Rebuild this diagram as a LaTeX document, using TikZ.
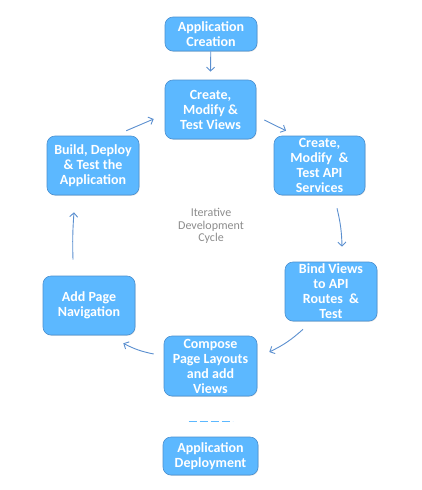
\documentclass[tikz,border=0pt]{standalone}
\usepackage{fontspec}
\setmainfont{Carlito}
\usetikzlibrary{arrows.meta,shadows}
\definecolor{boxfill}{HTML}{5CB8FF}
\definecolor{boxline}{HTML}{4A90D0}
\definecolor{arrowblue}{HTML}{5B8FCF}
\definecolor{cyclegray}{HTML}{8C8C8C}

\begin{document}
\begin{tikzpicture}[x=1pt,y=-1pt,
		stage/.style={fill=boxfill,draw=boxline,line width=0.6pt,rounded corners=8pt,text=white,font=\bfseries\fontsize{14}{15}\selectfont,align=center,inner sep=0pt,drop shadow={opacity=0.25,shadow xshift=0.6pt,shadow yshift=-0.8pt}},
		flow/.style={arrowblue,line width=0.9pt,-{Straight Barb[length=4pt,width=8pt]}}]

		\useasboundingbox (0,0) rectangle (421,490);

		\node (creation) [stage,minimum width=92pt,minimum height=34pt] at (211,34) {Application\\Creation};
		\node (views) [stage,minimum width=91pt,minimum height=59pt] at (210.5,109.5) {Create,\\Modify \&\\Test Views};
		\node (api) [stage,minimum width=91pt,minimum height=59pt] at (319.5,165.5) {Create,\\Modify \ \&\\Test API\\Services};
		\node (bind) [stage,minimum width=92pt,minimum height=59pt] at (331,291.5) {Bind Views\\to API\\Routes \ \&\\Test};
		\node (compose) [stage,minimum width=93pt,minimum height=60pt] at (210.5,366) {Compose\\Page Layouts\\and add\\Views};
		\node (nav) [stage,minimum width=92pt,minimum height=59pt] at (89,305.5) {Add Page\\Navigation};
		\node (build) [stage,minimum width=92pt,minimum height=59pt] at (93,165.5) {Build, Deploy\\\& Test the\\Application};
		\node (deploy) [stage,minimum width=95pt,minimum height=38pt] at (210.5,456) {Application\\Deployment};

		\node (cycle) [text=cyclegray,font=\fontsize{12}{12.5}\selectfont,align=center] at (211,226) {Iterative\\Development\\Cycle};

		\draw[flow] (creation) -- ([yshift=8pt]views.north);
		\draw[flow] ([xshift=-13pt,yshift=5pt]build.north east) -- ([xshift=-11pt,yshift=-9.5pt]views.west);
		\draw[flow] ([xshift=8pt,yshift=-10.5pt]views.east) -- ([xshift=-33.5pt,yshift=5pt]api.north);
		\draw[flow] ([xshift=17.5pt,yshift=-13pt]api.south) to[bend left=6] ([xshift=11pt,yshift=15pt]bind.north);
		\draw[flow] ([xshift=-28pt,yshift=-8pt]bind.south) to[bend left=8] ([xshift=12pt,yshift=14pt]compose.east);
		\draw[flow] ([xshift=-10pt,yshift=12pt]compose.west) to[bend left=8] ([xshift=-12pt,yshift=-8pt]nav.south east);
		\draw[flow] ([xshift=-16pt,yshift=16pt]nav.north) to[bend left=3] ([xshift=-19pt,yshift=-17pt]build.south);

		\draw[boxfill,line width=0.8pt,dash pattern=on 8.3pt off 2.7pt] ([xshift=-22pt,yshift=-25pt]compose.south) -- ([xshift=22pt,yshift=-25pt]compose.south);
	\end{tikzpicture}
\end{document}
